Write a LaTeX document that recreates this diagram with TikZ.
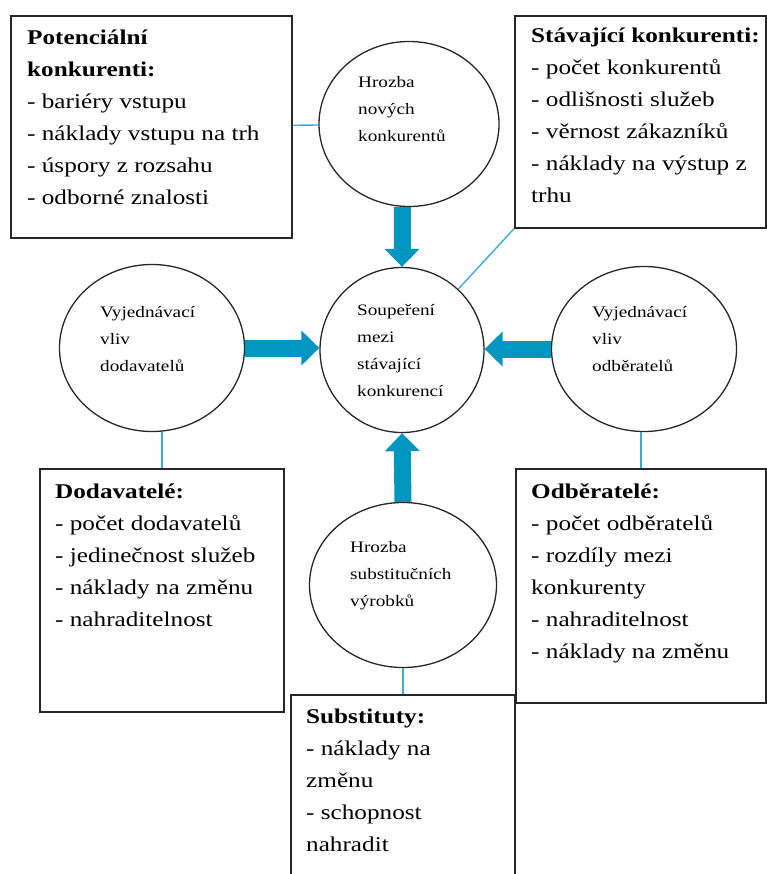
\documentclass[tikz,border=0pt]{standalone}
\usepackage{fontspec}
\setmainfont{Liberation Serif}[FakeStretch=1.2]
\usepackage{tikz}
\usetikzlibrary{arrows.meta,positioning,shapes.geometric}

\definecolor{arrowblue}{RGB}{0,150,192}
\definecolor{linkblue}{RGB}{60,172,205}

\begin{document}
\begin{tikzpicture}[
  x=1pt, y=-1pt,
  force/.style={ellipse,draw=black!85,line width=1.3pt,inner sep=0pt},
  infobox/.style={rectangle,draw=black!85,line width=1.7pt,inner sep=0pt,anchor=north west},
  boxtext/.style={anchor=base west,align=left,inner sep=0pt,font=\fontsize{21}{32}\selectfont},
  forcetext/.style={anchor=base west,align=left,inner sep=0pt,font=\fontsize{16}{27}\selectfont},
  push/.style={draw=arrowblue,line width=17pt,-{Triangle[width=34pt,length=18pt]}},
  link/.style={draw=linkblue,line width=1.4pt},
]
  \path[use as bounding box] (0,0) rectangle (767,874);
  \clip (0,0) rectangle (767,874);

  \node[force,minimum width=180pt,minimum height=165pt] (topc) at (409,124) {};
  \node[force,minimum width=164pt,minimum height=165pt] (cent) at (402,350) {};
  \node[force,minimum width=185pt,minimum height=167pt] (leftc) at (152,348) {};
  \node[force,minimum width=185pt,minimum height=165pt] (rightc) at (644,349) {};
  \node[force,minimum width=187pt,minimum height=165pt] (botc) at (403,585) {};

  % base anchor sits on the last line
  \node[forcetext] (topc-t) at (358,142) {Hrozba\\nových\\konkurentů};
  \node[forcetext] (cent-t) at (357,396) {Soupeření\\mezi\\stávající\\konkurencí};
  \node[forcetext] (leftc-t) at (100,371) {Vyjednávací\\vliv\\dodavatelů};
  \node[forcetext] (rightc-t) at (592,371) {Vyjednávací\\vliv\\odběratelů};
  \node[forcetext] (botc-t) at (350,606) {Hrozba\\substitučních\\výrobků};

  \node[infobox,minimum width=281pt,minimum height=222pt] (potbox) at (10,15) {};
  \node[infobox,minimum width=251pt,minimum height=212pt] (stavbox) at (514,15) {};
  \node[infobox,minimum width=244pt,minimum height=243pt] (dodbox) at (39,468) {};
  \node[infobox,minimum width=250pt,minimum height=234pt] (odbbox) at (515,468) {};
  \node[infobox,minimum width=224pt,minimum height=220pt] (subbox) at (290,694) {};

  \node[boxtext] (potbox-t) at (27,205) {\textbf{Potenciální}\\\textbf{konkurenti:}\\- bariéry vstupu\\- náklady vstupu na trh\\- úspory z rozsahu\\- odborné znalosti};
  \node[boxtext] (stavbox-t) at (531,203) {\textbf{Stávající konkurenti:}\\- počet konkurentů\\- odlišnosti služeb\\- věrnost zákazníků\\- náklady na výstup z\\trhu};
  \node[boxtext] (dodbox-t) at (55,626) {\textbf{Dodavatelé:}\\- počet dodavatelů\\- jedinečnost služeb\\- náklady na změnu\\- nahraditelnost};
  \node[boxtext] (odbbox-t) at (531,658) {\textbf{Odběratelé:}\\- počet odběratelů\\- rozdíly mezi\\konkurenty\\- nahraditelnost\\- náklady na změnu};
  \node[boxtext] (subbox-t) at (306,851) {\textbf{Substituty:}\\- náklady na\\změnu\\- schopnost\\nahradit};

  \draw[push] (cent.north |- topc.south) -- (cent.north);
  \draw[push] (leftc.east) -- (leftc.east -| cent.west);
  \draw[push] (rightc.west) -- (rightc.west -| cent.east);
  \draw[push] (botc.north) -- (cent.south);

  \draw[link] (potbox) -- (topc);
  \draw[link] (stavbox.south west) -- (cent);
  \draw[link] (dodbox.north) -- (dodbox.north |- leftc.south);
  \draw[link] (odbbox.north) -- (odbbox.north |- rightc.south);
  \draw[link] (subbox.north) -- (subbox.north |- botc.south);
\end{tikzpicture}
\end{document}
